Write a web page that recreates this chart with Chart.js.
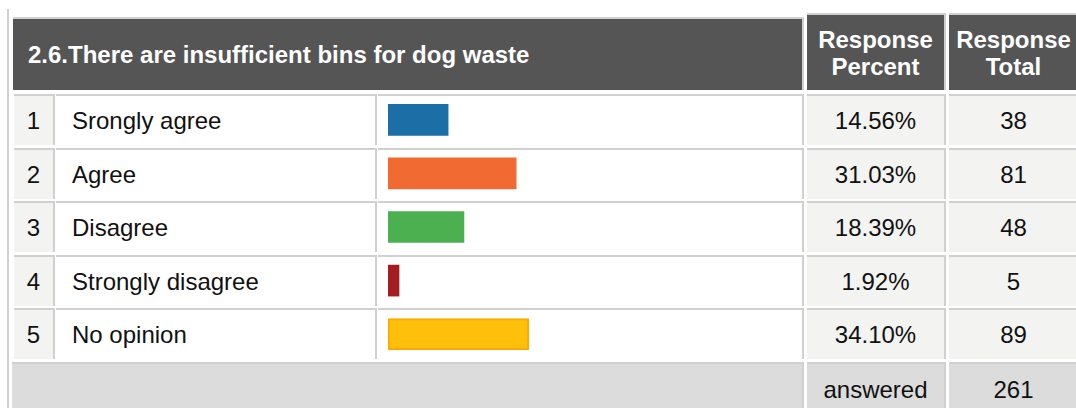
<!DOCTYPE html>
<html><head><meta charset="utf-8">
<script src="https://cdn.jsdelivr.net/npm/chart.js@4.4.1/dist/chart.umd.min.js"></script>
<style>
html,body{margin:0;padding:0;background:#fff;width:1076px;height:408px;overflow:hidden;font-family:"Liberation Sans",Arial,Helvetica,sans-serif;}
#wrap{position:relative;width:1076px;height:408px;overflow:hidden;}
.cell{position:absolute;box-sizing:border-box;border-top:2px solid #d0d0d0;border-right:2px solid #d0d0d0;display:flex;align-items:center;font-size:24px;color:#111;white-space:nowrap;}
.c{justify-content:center;text-align:center;}
.hd{background:#555555;color:#fff;font-weight:bold;line-height:27px;}
.num{background:#f3f3f1;}
.lab{background:#fff;padding-left:16px;}
.bar{background:#fff;}
.val{background:#f3f3f1;}
.foot{background:#dcdcdc;}
#frame{position:absolute;left:7px;top:9px;width:2px;height:400px;background:#d0d0d0;}
#bars{position:absolute;left:388px;top:93px;}
</style>
</head>
<body>
<div id="wrap">
  <div id="frame"></div>
  <canvas id="bars" width="413" height="268"></canvas>
</div>
<script>
// ---- data ----
const title = "2.6.There are insufficient bins for dog waste";
const headerPercent = ["Response", "Percent"];
const headerTotal = ["Response", "Total"];
const categories = ["Srongly agree", "Agree", "Disagree", "Strongly disagree", "No opinion"];
const percents = [14.56, 31.03, 18.39, 1.92, 34.10];
const totals = [38, 81, 48, 5, 89];
const answeredLabel = "answered";
const answeredTotal = 261;

// ---- styles ----
const barColors = ["#1c6fa6", "#f06a32", "#4cb050", "#a31c1f", "#ffc00c"];
const barBorders = ["#1c6fa6", "#f06a32", "#4cb050", "#a31c1f", "#ffa800"];
const barBorderWidths = [0, 0, 0, 0, 2];

// ---- table layout ----
const wrap = document.getElementById('wrap');
const cols = [{x:14,w:41},{x:56,w:321},{x:378,w:426},{x:807,w:139},{x:949,w:131}];
function cell(cls, x, y, w, h, html){
  const d = document.createElement('div');
  d.className = 'cell ' + cls;
  d.style.left = x + 'px'; d.style.top = y + 'px';
  d.style.width = w + 'px'; d.style.height = h + 'px';
  if (html !== undefined) d.innerHTML = html;
  wrap.insertBefore(d, document.getElementById('bars'));
  return d;
}
// header
const t = cell('hd', 13, 17, 791, 73, title); t.style.paddingLeft = '15px';
cell('hd c', cols[3].x, 13, cols[3].w, 77, headerPercent.join('<br>'));
cell('hd c', cols[4].x, 13, cols[4].w, 77, headerTotal.join('<br>'));
// rows
categories.forEach((cat, i) => {
  const y = Math.round(94 + 53.5 * i);
  cell('num c', cols[0].x, y, cols[0].w, 51, String(i + 1));
  cell('lab', cols[1].x, y, cols[1].w, 51, cat);
  cell('bar', cols[2].x, y, cols[2].w, 51);
  cell('val c', cols[3].x, y, cols[3].w, 51, percents[i].toFixed(2) + '%');
  cell('val c', cols[4].x, y, cols[4].w, 51, String(totals[i]));
});
// footer
const fy = Math.round(94 + 53.5 * categories.length);
cell('foot', 12, fy, 792, 60);
cell('foot c', cols[3].x, fy, cols[3].w, 60, answeredLabel).style.alignItems = 'flex-start';
cell('foot c', cols[4].x, fy, cols[4].w, 60, String(answeredTotal)).style.alignItems = 'flex-start';
document.querySelectorAll('.foot.c').forEach(e => e.style.paddingTop = '12px');

// ---- bars via Chart.js ----
new Chart(document.getElementById('bars'), {
  type: 'bar',
  data: {
    labels: categories,
    datasets: [{
      data: percents,
      backgroundColor: barColors,
      borderColor: barBorders,
      borderWidth: barBorderWidths,
      borderSkipped: false,
      barThickness: 31,
      minBarLength: 11
    }]
  },
  options: {
    indexAxis: 'y',
    responsive: false,
    animation: false,
    layout: { padding: 0 },
    plugins: { legend: { display: false }, tooltip: { enabled: false } },
    scales: {
      x: { display: false, min: 0, max: 100 },
      y: { display: false }
    }
  }
});
</script>
</body></html>
